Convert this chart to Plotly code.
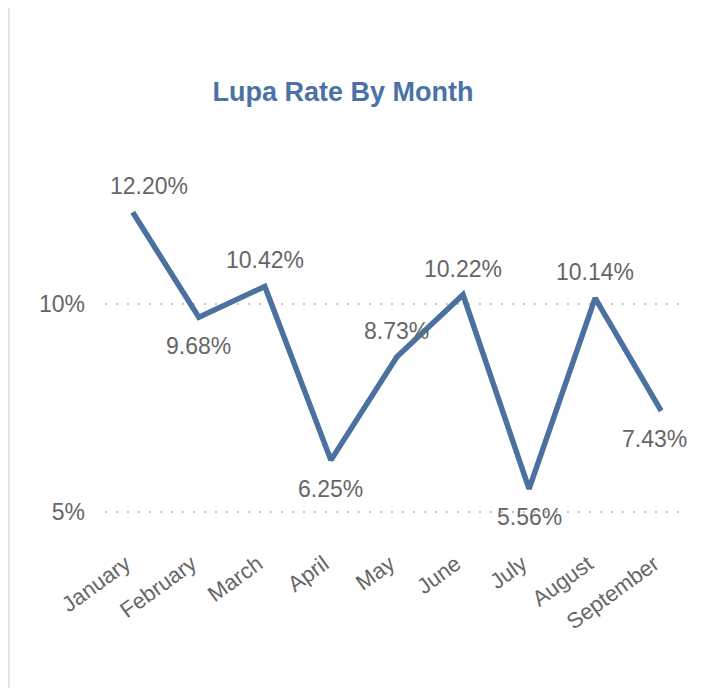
import plotly.graph_objects as go

months = ["January", "February", "March", "April", "May", "June", "July", "August", "September"]
rates = [12.20, 9.68, 10.42, 6.25, 8.73, 10.22, 5.56, 10.14, 7.43]
label_above = [True, False, True, False, True, True, False, True, False]
y_ticks = [5, 10]
y_tick_text = ["5%", "10%"]

FONT = "Liberation Sans, Arial, sans-serif"
LINE_COLOR = "#4a71a0"
GRAY = "#666666"

# plot area in pixels (figure coordinates)
W, H = 703, 688
L, R, T, B = 97, 30, 171, 163
pw, ph = W - L - R, H - T - B

def px_x(px):
    return (px - L) / pw

def px_y(py):
    return (H - B - py) / ph

fig = go.Figure()
fig.add_trace(go.Scatter(
    x=months, y=rates,
    mode="lines",
    line=dict(color=LINE_COLOR, width=5.5),
    hoverinfo="skip",
))

# data labels (first/last nudged inward to stay inside the card)
n = len(months)
for i, (m, v, up) in enumerate(zip(months, rates, label_above)):
    xs = 16 if i == 0 else (-7 if i == n - 1 else 0)
    fig.add_annotation(x=m, y=v, text=f"{v:.2f}%", showarrow=False,
                       xanchor="center", yanchor="middle",
                       xshift=xs, yshift=26 if up else -28.5,
                       font=dict(family=FONT, size=23, color=GRAY))

# card left edge
fig.add_shape(type="line", xref="paper", yref="paper",
              x0=px_x(1), x1=px_x(1), y0=px_y(H), y1=px_y(0),
              line=dict(color="#e4e4e4", width=2), layer="below")

fig.update_layout(
    width=W, height=H,
    margin=dict(l=L, r=R, t=T, b=B),
    paper_bgcolor="white",
    plot_bgcolor="white",
    showlegend=False,
    title=dict(text="<b>Lupa Rate By Month</b>", x=335 / W, xanchor="center",
               y=1 - 84 / H, yanchor="middle",
               font=dict(family=FONT, size=27, color="#4a72a6")),
    xaxis=dict(range=[-0.42, 8.3], showgrid=False, zeroline=False, showline=False,
               tickangle=-36, ticklabelstandoff=13, ticklabelshift=-7,
               tickfont=dict(family=FONT, size=22, color=GRAY), ticks=""),
    yaxis=dict(range=[4.5, 13], tickvals=y_ticks, ticktext=y_tick_text,
               showgrid=True, gridcolor="#c4c4c4", griddash="2px,9px", gridwidth=2,
               zeroline=False, showline=False, ticks="", ticklabelstandoff=19,
               tickfont=dict(family=FONT, size=23, color=GRAY)),
)

fig.write_html("out.html")
